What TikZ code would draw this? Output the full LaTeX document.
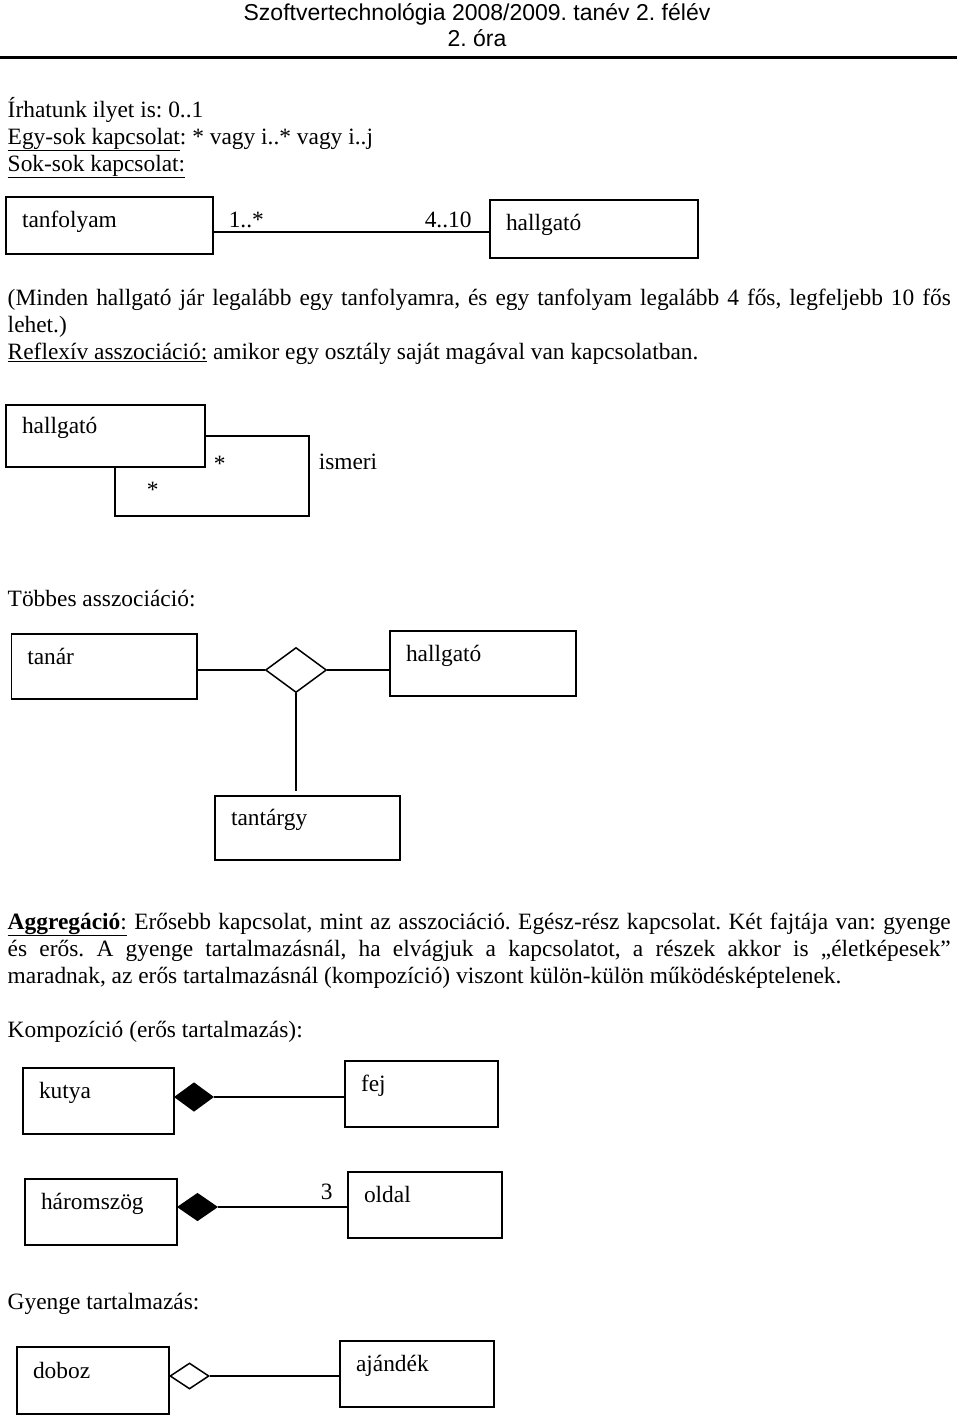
\documentclass[tikz,border=0pt]{standalone}
\usepackage{fontspec}
\setmainfont{Liberation Serif}
\newfontfamily\fejlecfont{Liberation Sans}
\usetikzlibrary{positioning,shapes.geometric}
\hyphenpenalty=10000
\exhyphenpenalty=10000
\frenchspacing
\newcommand\alahuz[1]{\underline{#1}}

\begin{document}
\begin{tikzpicture}[x=1pt,y=-1pt,line width=1.5pt,
          font=\fontsize{23.4}{27}\selectfont,
          fejlec/.style={anchor=base,inner sep=0,font=\fejlecfont\fontsize{23}{26}\selectfont},
          szoveg/.style={anchor=base west,inner sep=0},
          bekezdes/.style={szoveg,text width=943,align=justify},
          osztaly/.style 2 args={draw,rectangle,inner xsep=16,inner ysep=0,text width=#1,
                                minimum height=#2,text height=16,text depth=21,align=left},
          gyemant/.style 2 args={draw,diamond,inner sep=0,minimum width=#1,minimum height=#2},
          tele/.style={fill=black}
        ]
        \useasboundingbox (0,0) rectangle (960,1416);

        %fejlec
        \node[fejlec] (cim) at (477,20) {Szoftvertechnológia 2008/2009. tanév 2. félév};
        \node[fejlec] (ora) at (477,46) {2. óra};
        \draw[line width=3] (0,57) -- (957,57);

        %szoveg
        \node[szoveg] (irhatunk) at (7,117) {Írhatunk ilyet is: 0..1};
        \node[szoveg] (egysok) at (7,144) {\alahuz{Egy-sok kapcsolat}: * vagy i..* vagy i..j};
        \node[szoveg] (soksok) at (7,171) {\alahuz{Sok-sok kapcsolat:}};

        %tanfolyam - hallgato
        \node[osztaly={175}{57},text depth=13] (tanfolyam) at (109.5,225.5) {tanfolyam};
        \node[osztaly={176}{58},text depth=14] (hallgato) at (594,229) {hallgató};
        \draw ([yshift=-6.5pt]tanfolyam.east) -- ([yshift=-6.5pt]tanfolyam.east -| hallgato.west);
        \node[szoveg] (m1) at (228,227) {1..*};
        \node[szoveg] (m2) at (424,227) {4..10};

        \node[bekezdes] (minden) at (7,305) {(Minden hallgató jár legalább egy tanfolyamra, és egy tanfolyam legalább 4 fős, legfeljebb 10 fős\linebreak lehet.)};
        \node[szoveg] (reflexiv) at (7,359) {\alahuz{Reflexív asszociáció:} amikor egy osztály saját magával van kapcsolatban.};

        %reflexiv
        \node[osztaly={167}{62}] (hallgato2) at (105.5,436) {hallgató};
        \coordinate (hurok) at (309,516);
        \draw ([xshift=9.5pt]hallgato2.south) |- (hurok) |- (hallgato2.east);
        \node[szoveg] (cs1) at (213,471) {*};
        \node[szoveg] (cs2) at (146,497) {*};
        \node[szoveg] (ismeri) at (318,469) {ismeri};

        %tobbes
        \node[szoveg] (tobbes) at (7,606) {Többes asszociáció:};
        \node[osztaly={153.5}{65}] (tanar) at (104,666.5) {tanár};
        \node[gyemant={61}{45}] (gy) at (296,670) {};
        \node[osztaly={154}{65}] (hallgato3) at (483,663.5) {hallgató};
        \node[osztaly={153}{64}] (tantargy) at (307.5,828) {tantárgy};
        \draw (gy.west) -- (gy.west -| tanar.east);
        \draw (gy.east) -- (gy.east -| hallgato3.west);
        \draw[shorten >=4pt] (gy.south) -- (gy.south |- tantargy.north);

        %aggregacio
        \node[bekezdes] (aggr) at (7,929) {\alahuz{\textbf{Aggregáció}:} Erősebb kapcsolat, mint az asszociáció. Egész-rész kapcsolat. Két fajtája van: gyenge\linebreak és erős. A gyenge tartalmazásnál, ha elvágjuk a kapcsolatot, a részek akkor is „életképesek”\linebreak maradnak, az erős tartalmazásnál (kompozíció) viszont külön-külön működésképtelenek.};

        %kompozicio
        \node[szoveg] (kompozicio) at (7,1037) {Kompozíció (erős tartalmazás):};
        \node[osztaly={119}{66}] (kutya) at (98.5,1101) {kutya};
        \node[gyemant={38}{28},tele] (kgy) at (194,1097) {};
        \node[osztaly={121}{66}] (fej) at (421.5,1094) {fej};
        \draw (kgy.east) -- (kgy.east -| fej.west);

        \node[osztaly={120}{66}] (haromszog) at (101,1212) {háromszög};
        \node[gyemant={39}{27},tele] (hgy) at (197.5,1207) {};
        \node[osztaly={122}{66}] (oldal) at (425,1205) {oldal};
        \draw (hgy.east) -- (hgy.east -| oldal.west);
        \node[szoveg] (m3) at (320,1199) {3};

        %gyenge
        \node[szoveg] (gyenge) at (7,1309) {Gyenge tartalmazás:};
        \node[osztaly={120}{67}] (doboz) at (93,1380.5) {doboz};
        \node[gyemant={39}{26}] (dgy) at (189.5,1376) {};
        \node[osztaly={122}{66}] (ajandek) at (417,1374) {ajándék};
        \draw (dgy.east) -- (dgy.east -| ajandek.west);
    \end{tikzpicture}
\end{document}
